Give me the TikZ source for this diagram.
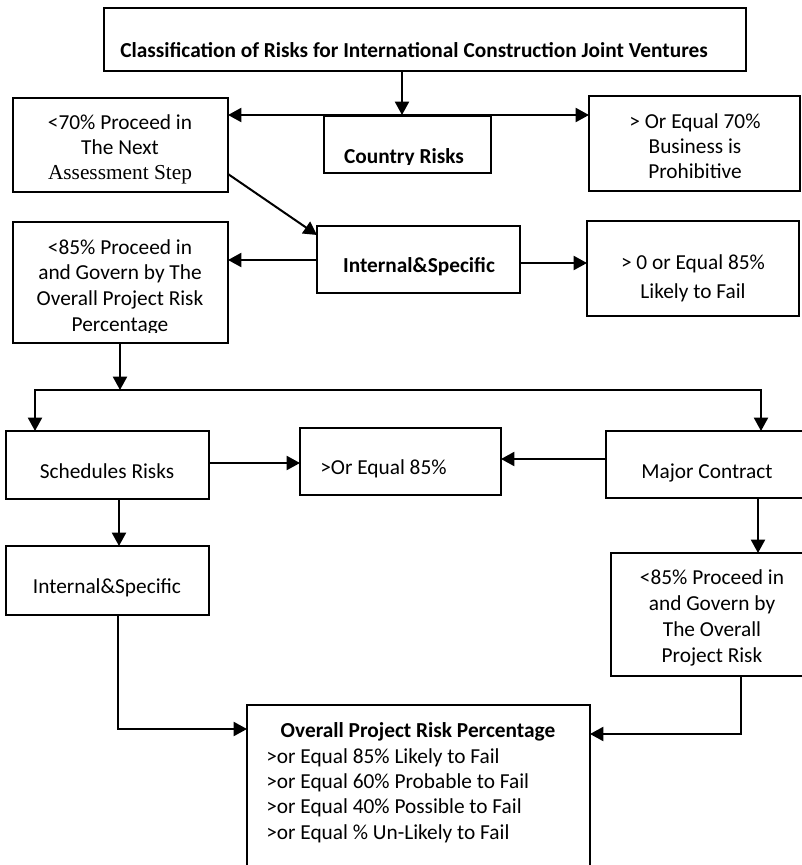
\documentclass[tikz,border=0pt]{standalone}
\usepackage{fontspec}
\setmainfont{Carlito}
\newfontfamily\tnr{Liberation Serif}
\usetikzlibrary{arrows.meta,fit}
\tikzset{
  box/.style={draw, line width=1.2pt, inner sep=0pt, outer sep=0pt},
  conn/.style={line width=1.5pt, -{Triangle[length=10pt,width=10.5pt]}},
  txt/.style={inner sep=0pt, anchor=base, font=\fontsize{16}{19.1}\selectfont},
}
\newcommand\ml[2][c]{\begin{tabular}[t]{@{}#1@{}}#2\end{tabular}}
\begin{document}
\begin{tikzpicture}[x=0.75pt,y=-0.75pt]
\useasboundingbox (0,0) rectangle (802,865);
% boxes
\node[box, fit={(104,8) (746,71)}] (top) {};
\node[box, fit={(324,116) (491,173)}] (country) {};
\node[box, fit={(13,98) (228,192)}] (l70) {};
\node[box, fit={(589,96) (800,191)}] (r70) {};
\node[box, fit={(317,226) (520,293)}] (is1) {};
\node[box, fit={(13,222) (228,343)}] (l85) {};
\node[box, fit={(587,221) (799,316)}] (r85) {};
\node[box, fit={(6,431) (209,499)}] (sched) {};
\node[box, fit={(300,428) (501,495)}] (eq) {};
\node[box, fit={(606,431) (812,498)}] (major) {};
\node[box, fit={(6,546) (209,615)}] (is2) {};
\node[box, fit={(611,553) (815,676)}] (g85) {};
\node[box, fit={(247,705) (590,890)}] (overall) {};
% texts
\node[txt] (ttop) at (414,57) {\bfseries Classification of Risks for International Construction Joint Ventures};
\begin{scope}
  \clip (324,116) rectangle (491,164);
  \node[txt] (tcountry) at (404,163) {\bfseries Country Risks};
\end{scope}
\node[txt] (tl70) at (120,129) {\ml{<70\% Proceed in\\The Next\\{\tnr Assessment Step}}};
\node[txt, font=\fontsize{16}{18.75}\selectfont] (tr70) at (695,128) {\ml{> Or Equal 70\%\\Business is\\Prohibitive}};
\node[txt] (tis1) at (419,272) {\bfseries Internal\&Specific};
\begin{scope}
  \clip (13,222) rectangle (228,332);
  \node[txt, font=\fontsize{16}{19.3}\selectfont] (tl85) at (120,254) {\ml{<85\% Proceed in\\and Govern by The\\Overall Project Risk\\Percentage}};
\end{scope}
\node[txt, font=\fontsize{16}{21.75}\selectfont] (tr85) at (693,269) {\ml{> 0 or Equal 85\%\\Likely to Fail}};
\node[txt] (tsched) at (107,478) {Schedules Risks};
\node[txt, anchor=base west] (teq) at (320,474) {>Or Equal 85\%};
\node[txt] (tmajor) at (707,478) {Major Contract};
\node[txt] (tis2) at (107,593) {Internal\&Specific};
\node[txt, font=\fontsize{16}{19.5}\selectfont] (tg85) at (712,584) {\ml{<85\% Proceed in\\and Govern by\\The Overall\\Project Risk}};
\node[txt] (tov) at (418,737) {\bfseries Overall Project Risk Percentage};
\node[txt, anchor=base west] (tovl) at (266,763) {\ml[l]{>or Equal 85\% Likely to Fail\\>or Equal 60\% Probable to Fail\\>or Equal 40\% Possible to Fail\\>or Equal \% Un-Likely to Fail}};
% connectors
\coordinate (j1) at (402,115);
\draw[conn] (top.south -| j1) -- (j1);
\draw[conn] (j1) -- (l70.east |- j1);
\draw[conn] (j1) -- (r70.west |- j1);
\coordinate (d0) at (228,174);
\coordinate (d1) at (317,235);
\draw[conn] (l70.east |- d0) -- (is1.west |- d1);
\coordinate (y260) at (0,260);
\draw[conn] (is1.west |- y260) -- (l85.east |- y260);
\coordinate (y263) at (0,263);
\draw[conn] (is1.east |- y263) -- (r85.west |- y263);
\coordinate (j2) at (120,390);
\coordinate (j3) at (35,390);
\coordinate (j4) at (761,390);
\draw[conn] (l85.south -| j2) -- (j2);
\draw[conn] (j2) -| (sched.north -| j3);
\draw[conn] (j2) -| (major.north -| j4);
\coordinate (y463) at (0,463);
\draw[conn] (sched.east |- y463) -- (eq.west |- y463);
\coordinate (y459) at (0,459);
\draw[conn] (major.west |- y459) -- (eq.east |- y459);
\coordinate (x119) at (119,0);
\draw[conn] (sched.south -| x119) -- (is2.north -| x119);
\coordinate (x758) at (758,0);
\draw[conn] (major.south -| x758) -- (g85.north -| x758);
\coordinate (c1) at (118,729);
\draw[conn] (is2.south -| c1) |- (overall.west |- c1);
\coordinate (c2) at (741,734);
\draw[conn] (g85.south -| c2) |- (overall.east |- c2);
\end{tikzpicture}
\end{document}
